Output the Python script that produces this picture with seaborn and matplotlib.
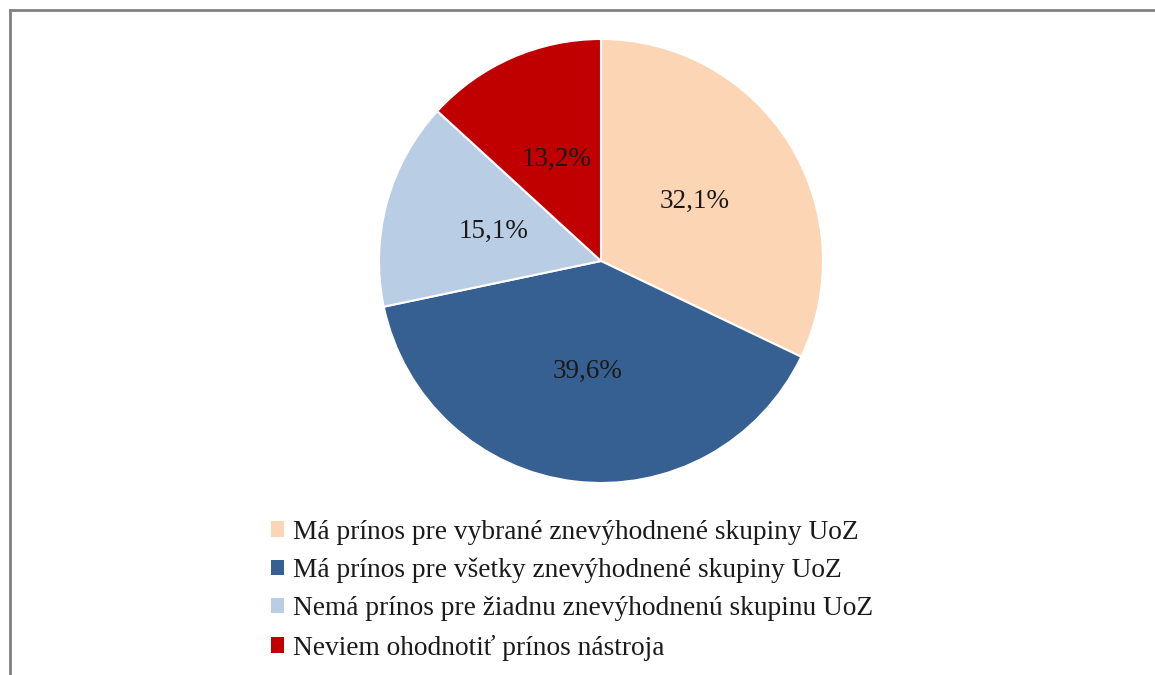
import matplotlib
matplotlib.use("Agg")
import matplotlib.pyplot as plt
import matplotlib.patches as mpatches
import numpy as np
import seaborn as sns

# Data
kategorie = [
    "Má prínos pre vybrané znevýhodnené skupiny UoZ",
    "Má prínos pre všetky znevýhodnené skupiny UoZ",
    "Nemá prínos pre žiadnu znevýhodnenú skupinu UoZ",
    "Neviem ohodnotiť prínos nástroja",
]
podiely = [32.1, 39.6, 15.1, 13.2]
popisky = ["32,1%", "39,6%", "15,1%", "13,2%"]
farby = ["#FCD5B5", "#366092", "#B9CDE5", "#C00000"]


def main():
    sns.set_theme(style="white")
    plt.rcParams["font.family"] = ["Liberation Serif", "DejaVu Serif"]

    fig = plt.figure(figsize=(11.55, 6.75), dpi=100)

    # ram okolo grafu (vidno len lavu a hornu hranu)
    ram = mpatches.Rectangle(
        (9.5 / 1155, -0.05), 1.2, 1 - 9.5 / 675 + 0.05,
        transform=fig.transFigure, fill=False,
        edgecolor="#808080", linewidth=2.0, zorder=10,
    )
    fig.patches.append(ram)

    # kolac
    ax = fig.add_axes([379 / 1155, 192 / 675, 444 / 1155, 444 / 675])
    wedges, _ = ax.pie(
        podiely,
        colors=farby,
        startangle=90,
        counterclock=False,
        radius=1.0,
        wedgeprops=dict(edgecolor="white", linewidth=1.5),
    )
    ax.set_xlim(-1.0, 1.0)
    ax.set_ylim(-1.0, 1.0)
    ax.set_aspect("equal")
    ax.axis("off")

    # popisky v strede vysekov
    for w, txt in zip(wedges, popisky):
        ang = np.deg2rad((w.theta1 + w.theta2) / 2)
        ax.text(0.5 * np.cos(ang), 0.5 * np.sin(ang), txt,
                ha="center", va="center", fontsize=19.5, color="#1a1a1a")

    # legenda pod grafom
    handles = [mpatches.Patch(facecolor=c, edgecolor="none") for c in farby]
    fig.legend(
        handles, kategorie,
        loc="upper left",
        bbox_to_anchor=(246 / 1155, 1 - 495 / 675),
        frameon=False,
        fontsize=19.7,
        handlelength=0.5,
        handleheight=0.5,
        handletextpad=0.3,
        labelspacing=0.48,
        labelcolor="#1a1a1a",
    )

    fig.savefig("out.png", dpi=100)


if __name__ == "__main__":
    main()
